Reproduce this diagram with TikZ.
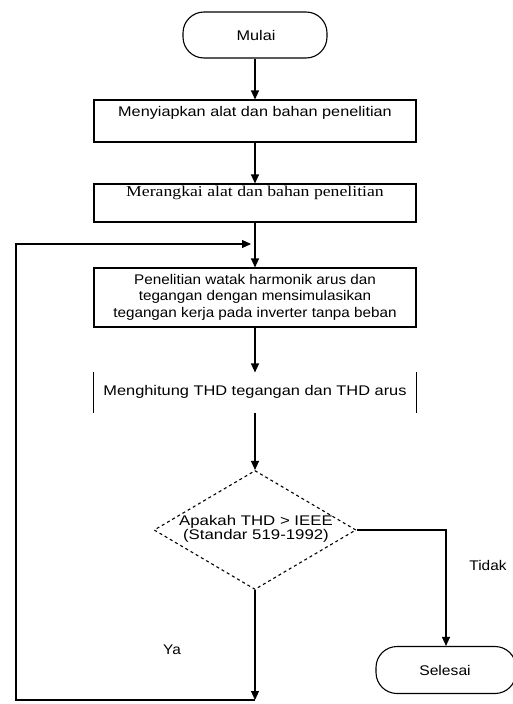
\documentclass[tikz,border=0pt]{standalone}
\usepackage{fontspec}
\setmainfont{Liberation Sans}
\newfontfamily\serifbox{Liberation Serif}
\usetikzlibrary{arrows.meta,shapes.geometric,positioning}
\begin{document}
\begin{tikzpicture}[x=1pt,y=-1pt,
  line width=1.1pt,
  font=\fontsize{14}{16.5}\selectfont,
  arr/.style={-{Triangle[length=9pt,width=8pt]}},
  term/.style={draw,rounded corners=21pt,minimum width=144pt,minimum height=46pt,inner sep=0pt},
  procbox/.style={draw,minimum width=322pt,inner sep=0pt},
  txt/.style={inner sep=0pt,align=center},
  wide/.style={xscale=#1,transform shape},
  dec/.style={draw,dashed,diamond,minimum width=202pt,minimum height=119pt,inner sep=0pt,aspect=1.7}
]
\useasboundingbox (0,0) rectangle (513,704);
\fill[white] (0,0) rectangle (513,704);

\node[term] (mulai) at (255,35) {};
\node[txt,wide=1.16] (mulait) at (256,35) {Mulai};

\node[procbox,minimum height=42pt] (b1) at (255,121) {};
\node[txt,wide=1.16] (b1t) at (255,113) {Menyiapkan alat dan bahan penelitian};

\node[procbox,minimum height=38pt] (b2) at (255,203) {};
\node[txt,wide=1.18,font=\fontsize{15}{16}\selectfont] (b2t) at (255,193) {\serifbox Merangkai alat dan bahan penelitian};

\node[procbox,minimum height=59pt] (b3) at (255,297.5) {};
\node[txt,wide=1.09] (b3t) at (255,297) {Penelitian watak harmonik arus dan\\tegangan dengan mensimulasikan\\tegangan kerja pada inverter tanpa beban};

\node[minimum width=322pt,minimum height=39pt,inner sep=0pt] (b4) at (255,392.5) {};
\draw (b4.north west) -- (b4.south west);
\draw (b4.north east) -- (b4.south east);
\node[txt,wide=1.17] (b4t) at (255,392) {Menghitung THD tegangan dan THD arus};

\node[dec] (d) at (255,530) {};
\node[txt,wide=1.2,font=\fontsize{14}{13.5}\selectfont] (dt) at (256,529) {Apakah THD > IEEE\\(Standar 519-1992)};

\node[term,minimum width=140pt,minimum height=47pt] (selesai) at (446,670) {};
\node[txt,wide=1.12] (selesait) at (445,670) {Selesai};

\node[txt,wide=1.1] (tidak) at (488,565) {Tidak};
\node[txt,wide=1.1] (ya) at (172,650) {Ya};

\coordinate (bot) at (255,700);
\coordinate (lb) at (16,700);
\coordinate (lt) at (16,244);
\coordinate (join) at (251,244);

\draw[arr] (mulai) -- (b1);
\draw[arr] (b1) -- (b2);
\draw[arr] (b2) -- (b3);
\draw[arr] (b3) -- (b4);
\draw[arr] (b4) -- (d);
\draw[arr] (d.east) -| (selesai.north);
\draw[arr] (d.south) -- (bot);
\draw[arr] (bot) -- (lb) -- (lt) -- (join);
\end{tikzpicture}
\end{document}
